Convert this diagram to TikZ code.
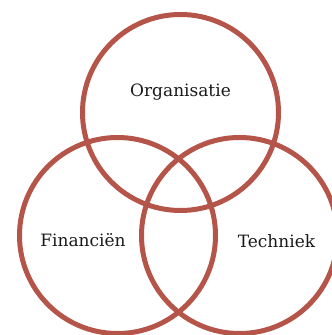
\documentclass[tikz,border=0pt]{standalone}
\usepackage{fontspec}
\setmainfont{DejaVu Serif}
\definecolor{ring}{RGB}{181,85,74}

\begin{document}
\begin{tikzpicture}[x=1pt,y=1pt,
  set/.style={circle,draw=ring,line width=5pt,minimum size=196pt,inner sep=0pt},
  lbl/.style={font=\fontsize{17}{19}\selectfont,text=black!90}]
  \useasboundingbox (0,0) rectangle (332,335);
  \node[set] (org) at (180.5,222.5) {};
  \node[set] (fin) at (117.5,99.5) {};
  \node[set] (tec) at (239.5,99.5) {};
  \node[lbl] (torg) at (180.5,243) {Organisatie};
  \node[lbl] (tfin) at (83,95) {Financiën};
  \node[lbl] (ttec) at (276.5,94) {Techniek};
\end{tikzpicture}
\end{document}
